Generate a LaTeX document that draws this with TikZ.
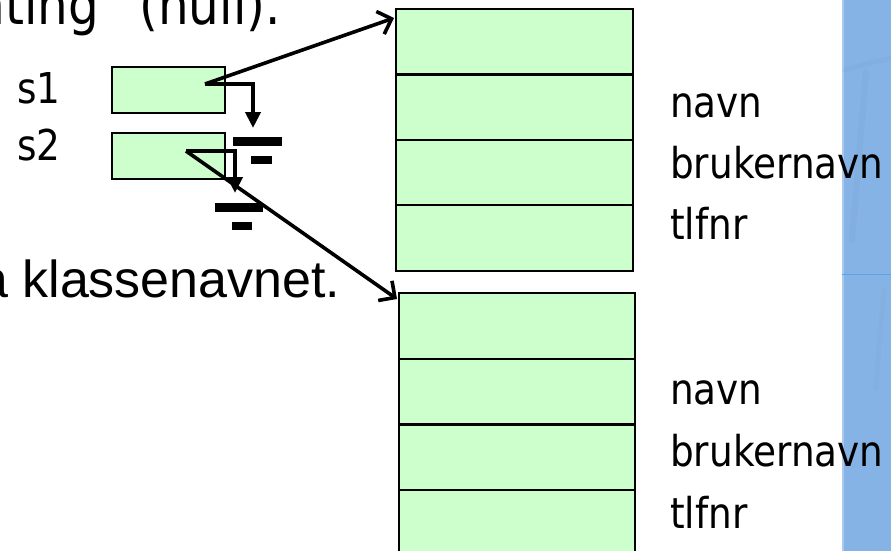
\documentclass[tikz,border=0pt]{standalone}
\usepackage{fontspec}
\setmainfont{DejaVu Sans}
\newfontfamily\labelfont[FakeStretch=0.88]{DejaVu Sans}
\newfontfamily\arialfont{Liberation Sans}
\usetikzlibrary{arrows.meta}
\definecolor{cellgreen}{HTML}{CCFFCC}
\definecolor{bandblue}{HTML}{86B3E6}
\definecolor{bandline}{HTML}{5AA2EC}
\begin{document}
\begin{tikzpicture}[x=1pt,y=-1pt,
  cell/.style={draw=black,line width=2.2pt,fill=cellgreen,inner sep=0pt,
    anchor=north west,minimum width=237pt,minimum height=65.4pt},
  refbox/.style={draw=black,line width=2.2pt,fill=cellgreen,inner sep=0pt,
    anchor=north west,minimum width=113pt,minimum height=46pt},
  lbl/.style={inner sep=0pt,anchor=base west,
    font=\labelfont\fontsize{42.5}{50}\selectfont},
  bar/.style={fill=black,draw=none,inner sep=0pt},
  nullptr/.style={line width=4pt,-{Triangle[length=16pt,width=15pt]}},
  refptr/.style={line width=3.6pt,-{Straight Barb[length=12pt,width=24pt]}},
]
\useasboundingbox (0,0) rectangle (891,551);
\clip (0,0) rectangle (891,551);

% slide background band on the right
\fill[bandblue] (842,0) rectangle (891,551);
\fill[bandblue!70!white] (842,0) rectangle (844,551);
\draw[bandblue!85!black,opacity=0.15,line width=5pt,line cap=round]
  (845,70) .. controls (870,62) and (885,60) .. (891,58);
\draw[bandblue!85!black,opacity=0.15,line width=6pt,line cap=round]
  (866,72) -- (852,240);
\draw[bandblue!85!black,opacity=0.12,line width=5pt,line cap=round]
  (884,290) .. controls (880,330) and (878,360) .. (876,388);
\draw[bandline,line width=1pt] (842,274) -- (891,274);

% slide text fragments
\node[inner sep=0pt,anchor=base east,font=\labelfont\fontsize{55}{64}\selectfont]
  (head) at (281,25) {ingenting” (null).};
\node[inner sep=0pt,anchor=base west,font=\arialfont\fontsize{52}{60}\selectfont]
  (tail) at (-21,297) {a klassenavnet.};

% first object
\node[cell] (o1a) at (395,8) {};
\node[cell] (o1b) at (395,73.4) {};
\node[cell] (o1c) at (395,138.8) {};
\node[cell] (o1d) at (395,204.2) {};
\node[lbl] (l1a) at (670,117) {navn};
\node[lbl] (l1b) at (670,178) {brukernavn};
\node[lbl] (l1c) at (670,239) {tlfnr};

% second object
\node[cell,minimum width=236pt,minimum height=65.7pt] (o2a) at (398,292) {};
\node[cell,minimum width=236pt,minimum height=65.7pt] (o2b) at (398,357.7) {};
\node[cell,minimum width=236pt,minimum height=65.7pt] (o2c) at (398,423.4) {};
\node[cell,minimum width=236pt,minimum height=65.7pt] (o2d) at (398,489.1) {};
\node[lbl] (l2a) at (670,404) {navn};
\node[lbl] (l2b) at (670,466) {brukernavn};
\node[lbl] (l2c) at (670,528) {tlfnr};

% reference variables
\node[lbl,anchor=base west] (s1) at (17,103) {s1};
\node[lbl,anchor=base west] (s2) at (17,160) {s2};
\node[refbox] (r1) at (111,66) {};
\node[refbox] (r2) at (111,132) {};

% ground (null) symbols
\node[bar,minimum width=49pt,minimum height=9pt] (g1a) at (257.5,141.5) {};
\node[bar,minimum width=21pt,minimum height=8pt] (g1b) at (261.5,159.5) {};
\node[bar,minimum width=48pt,minimum height=9pt] (g2a) at (239,207.5) {};
\node[bar,minimum width=20pt,minimum height=8pt] (g2b) at (242,226) {};

% connector end points
\coordinate (p1) at (205,84);
\coordinate (p2) at (186,151);
\coordinate (n1) at (253,128);
\coordinate (n2) at (235,193);
\coordinate (t1) at (394,18);
\coordinate (t2) at (397,299);

\draw[nullptr] (p1) -| (n1);
\draw[nullptr] (p2) -| (n2);
\draw[refptr] (p1) -- (t1);
\draw[refptr] (p2) -- (t2);
\end{tikzpicture}
\end{document}
